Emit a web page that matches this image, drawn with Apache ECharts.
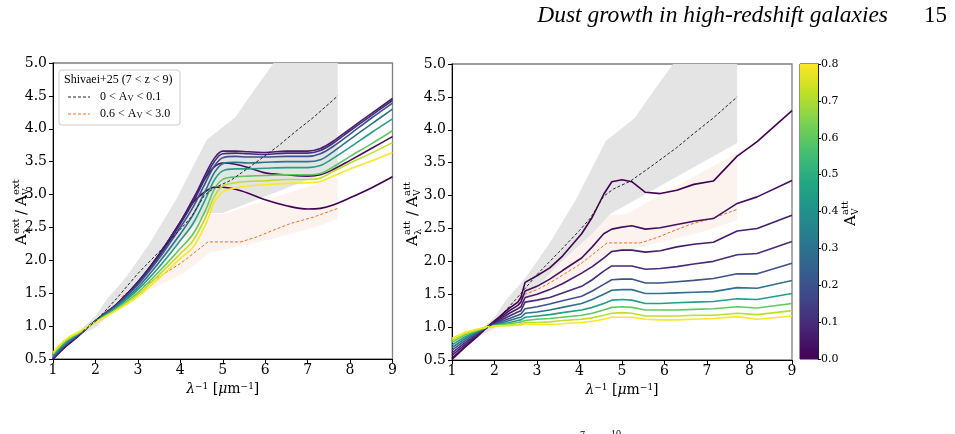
<!DOCTYPE html>
<html><head><meta charset="utf-8">
<script src="https://cdn.jsdelivr.net/npm/echarts@6/dist/echarts.min.js"></script>
<style>html,body{margin:0;padding:0;background:#fff}#c{width:955px;height:434px}</style>
</head><body><div id="c"></div><script>
// ---------------- data ----------------
const avValues = [0.0, 0.03, 0.06, 0.1, 0.2, 0.3, 0.45, 0.6, 0.72, 0.8];

// left panel: extinction curves (smooth)
const extX = [1,1.3,1.6,1.85,2.2,2.5,3,3.5,4,4.3,4.6,4.8,5.0,5.3,5.6,6.0,6.5,7.0,7.3,7.6,8.0,8.5,9];
const ext0 = [0.50,0.69,0.85,1.00,1.18,1.33,1.67,2.09,2.58,2.88,3.05,3.11,3.11,3.08,3.02,2.92,2.83,2.78,2.79,2.84,2.95,3.10,3.27];
const ext1 = [0.50,0.69,0.85,1.00,1.18,1.33,1.67,2.09,2.58,2.93,3.26,3.42,3.48,3.46,3.41,3.33,3.30,3.28,3.30,3.38,3.52,3.70,3.88];
const ext2 = [0.51,0.70,0.86,1.00,1.18,1.33,1.66,2.08,2.58,2.92,3.32,3.55,3.66,3.66,3.65,3.64,3.66,3.66,3.70,3.81,4.00,4.23,4.46];
const ext3 = [0.52,0.71,0.86,1.00,1.18,1.32,1.65,2.06,2.55,2.88,3.27,3.50,3.62,3.63,3.62,3.61,3.63,3.63,3.67,3.78,3.97,4.20,4.43];
const ext4 = [0.52,0.72,0.87,1.00,1.17,1.32,1.63,2.03,2.50,2.81,3.19,3.43,3.56,3.58,3.57,3.57,3.58,3.58,3.62,3.73,3.92,4.16,4.39];
const ext5 = [0.54,0.73,0.88,1.00,1.16,1.30,1.59,1.97,2.40,2.69,3.07,3.33,3.47,3.49,3.48,3.49,3.50,3.50,3.53,3.65,3.84,4.07,4.30];
const ext6 = [0.555,0.75,0.885,1.00,1.155,1.285,1.555,1.90,2.30,2.56,2.94,3.22,3.36,3.39,3.39,3.40,3.41,3.41,3.44,3.55,3.72,3.94,4.15];
const ext7 = [0.575,0.77,0.895,1.00,1.145,1.265,1.51,1.83,2.18,2.40,2.77,3.08,3.23,3.27,3.28,3.29,3.30,3.30,3.32,3.42,3.58,3.77,3.97];
const ext8 = [0.585,0.79,0.90,1.00,1.135,1.25,1.48,1.78,2.10,2.30,2.66,2.97,3.13,3.18,3.20,3.21,3.23,3.23,3.25,3.35,3.48,3.63,3.79];
const ext9 = [0.60,0.80,0.91,1.00,1.13,1.24,1.45,1.73,2.03,2.20,2.55,2.88,3.04,3.10,3.13,3.15,3.17,3.18,3.20,3.28,3.39,3.51,3.64];
const extCurves = [ext0, ext1, ext2, ext3, ext4, ext5, ext6, ext7, ext8, ext9];

// right panel: attenuation curves (piecewise)
const attX = [1.0,1.3,1.6,1.82,2.1,2.35,2.55,2.62,2.72,3.0,3.3,3.6,4.05,4.3,4.57,4.76,5.0,5.23,5.55,5.9,6.29,6.69,7.15,7.71,8.18,9.0];
const att0 = [0.51,0.69,0.86,1.00,1.15,1.29,1.38,1.45,1.68,1.78,1.90,2.08,2.42,2.67,3.02,3.21,3.24,3.21,3.05,3.03,3.08,3.17,3.22,3.60,3.82,4.29];
const att1 = [0.53,0.70,0.87,1.00,1.13,1.25,1.33,1.38,1.55,1.62,1.73,1.86,2.05,2.22,2.42,2.49,2.52,2.54,2.49,2.51,2.56,2.61,2.65,2.88,2.98,3.23];
const att2 = [0.57,0.73,0.88,1.00,1.11,1.21,1.28,1.31,1.45,1.50,1.57,1.66,1.82,1.92,2.05,2.15,2.17,2.17,2.14,2.16,2.22,2.26,2.29,2.46,2.50,2.70];
const att3 = [0.61,0.76,0.90,1.00,1.09,1.17,1.23,1.25,1.38,1.41,1.45,1.52,1.62,1.72,1.85,1.93,1.93,1.93,1.88,1.89,1.92,1.96,2.00,2.10,2.12,2.30];
const att4 = [0.65,0.79,0.91,1.00,1.07,1.13,1.18,1.20,1.28,1.31,1.35,1.40,1.47,1.55,1.65,1.72,1.73,1.73,1.67,1.67,1.69,1.71,1.74,1.81,1.81,1.97];
const att5 = [0.69,0.82,0.93,1.00,1.05,1.10,1.14,1.15,1.21,1.23,1.26,1.30,1.36,1.42,1.50,1.56,1.57,1.57,1.51,1.51,1.52,1.53,1.54,1.60,1.59,1.71];
const att6 = [0.73,0.85,0.94,1.00,1.04,1.07,1.10,1.11,1.15,1.17,1.19,1.22,1.26,1.30,1.36,1.41,1.42,1.41,1.36,1.36,1.37,1.38,1.39,1.43,1.42,1.51];
const att7 = [0.77,0.88,0.95,1.00,1.03,1.05,1.07,1.08,1.10,1.12,1.13,1.15,1.18,1.21,1.26,1.30,1.31,1.30,1.26,1.26,1.26,1.27,1.28,1.31,1.29,1.36];
const att8 = [0.80,0.90,0.96,1.00,1.02,1.03,1.04,1.05,1.07,1.07,1.08,1.10,1.12,1.14,1.18,1.21,1.22,1.21,1.17,1.17,1.17,1.18,1.18,1.21,1.19,1.25];
const att9 = [0.83,0.92,0.97,1.00,1.02,1.02,1.03,1.03,1.05,1.04,1.04,1.05,1.07,1.09,1.12,1.15,1.15,1.15,1.12,1.11,1.11,1.12,1.13,1.16,1.12,1.17];
const attCurves = [att0, att1, att2, att3, att4, att5, att6, att7, att8, att9];

// Shivaei+25 observational curves
const blackX = [1.7,2.0,2.5,3.0,3.5,4.0,4.26,4.57,4.8,5.2,5.7,6.29,6.7,7.15,7.71];
const blackY = [0.92,1.07,1.42,1.80,2.13,2.47,2.66,2.99,3.10,3.22,3.45,3.73,3.95,4.18,4.50];
const orangeX = [2.62,2.72,3.0,3.24,3.5,3.75,4.02,4.3,4.65,5.0,5.43,5.82,6.2,6.6,7.15,7.71];
const orangeY = [1.44,1.50,1.57,1.65,1.75,1.85,1.96,2.10,2.28,2.28,2.28,2.36,2.46,2.56,2.66,2.79];

const greyUpX = [1.65,2.0,2.26,2.73,3.28,3.9,4.62,5.3,5.7,6.2,7.71];
const greyUpY = [0.95,1.15,1.40,1.75,2.26,2.92,3.83,4.18,4.55,5.0,5.0];
const greyLowLeftX = [1.65,2.0,2.5,3.0,3.5,4.0,4.6,5.0,7.71];
const greyLowLeftY = [0.86,0.98,1.28,1.60,1.95,2.30,2.72,2.72,3.40];
const greyLowRightX = [1.65,2.0,2.5,3.0,3.5,4.0,4.3,4.72,7.71];
const greyLowRightY = [0.86,0.98,1.28,1.60,1.95,2.25,2.42,2.72,3.80];

const pinkUpX = [2.6,3.0,3.5,4.0,4.7,5.1,7.71];
const pinkUpLeftY = [1.55,1.78,2.05,2.35,2.70,2.72,3.27];
const pinkUpRightY = [1.55,1.78,2.05,2.35,2.70,2.72,3.65];
const pinkLowX = [2.6,3.0,3.67,4.07,4.7,5.1,6.0,7.0,7.71];
const pinkLowY = [1.35,1.45,1.68,1.80,2.12,2.17,2.30,2.47,2.63];

const legendTitle = 'Shivaei+25 (7 < z < 9)';
const legendLabels = ['0 < A{s|V} < 0.1', '0.6 < A{s|V} < 3.0'];
const cbarMax = 0.8;

// ---------------- helpers ----------------
const VIRIDIS = ['#440154','#482475','#414487','#355f8d','#2a788e','#21918c','#22a884','#44bf70','#7ad151','#bddf26','#fde725'];
function hex2rgb(h){return [parseInt(h.substr(1,2),16),parseInt(h.substr(3,2),16),parseInt(h.substr(5,2),16)];}
function viridis(t){
  t = Math.max(0, Math.min(1, t));
  const p = t * 10, i = Math.min(9, Math.floor(p)), f = p - i;
  const a = hex2rgb(VIRIDIS[i]), b = hex2rgb(VIRIDIS[i+1]);
  const c = a.map((v,k)=>Math.round(v + (b[k]-v)*f));
  return 'rgb(' + c.join(',') + ')';
}
const zip = (xs, ys) => xs.map((x,i)=>[x, ys[i]]);
const SERIF = '"DejaVu Serif", serif';
const TIMES = '"Liberation Serif", serif';
const BLACK_DASH = '#222', ORANGE = '#f26b1d';

function band(axisIdx, up, low, color, z){
  const pts = up.concat(low.slice().reverse());
  return {
    type: 'custom', xAxisIndex: axisIdx, yAxisIndex: axisIdx, z: z, silent: true, clip: true,
    data: pts,
    renderItem: function(params, api){
      if (params.dataIndex !== 0) return null;
      return { type: 'polygon', shape: { points: pts.map(p => api.coord(p)) }, style: { fill: color } };
    }
  };
}

const series = [];
[0,1].forEach(function(k){
  const pinkUp = zip(pinkUpX, k === 0 ? pinkUpLeftY : pinkUpRightY);
  const pinkLow = zip(pinkLowX, pinkLowY);
  const greyUp = zip(greyUpX, greyUpY);
  const greyLow = k === 0 ? zip(greyLowLeftX, greyLowLeftY) : zip(greyLowRightX, greyLowRightY);
  series.push(band(k, pinkUp, pinkLow, '#fcf3ee', 1));
  series.push(band(k, greyUp, greyLow, '#e4e4e4', 1));
  series.push({
    name: '0.6 < A_V < 3.0', type: 'line', xAxisIndex: k, yAxisIndex: k, z: 2,
    data: zip(orangeX, orangeY), symbol: 'none', showSymbol: false,
    lineStyle: { color: ORANGE, width: 1, type: [3, 2] }
  });
  const curves = k === 0 ? extCurves : attCurves;
  const xs = k === 0 ? extX : attX;
  curves.forEach(function(ys, i){
    series.push({
      type: 'line', xAxisIndex: k, yAxisIndex: k, z: 3 + i * 0.01,
      data: zip(xs, ys), symbol: 'none', showSymbol: false,
      smooth: k === 0 ? 0.35 : false,
      lineStyle: { color: viridis(avValues[i] / cbarMax), width: 1.6 }
    });
  });
  series.push({
    name: '0 < A_V < 0.1', type: 'line', xAxisIndex: k, yAxisIndex: k, z: 5,
    data: zip(blackX, blackY), symbol: 'none', showSymbol: false,
    lineStyle: { color: BLACK_DASH, width: 1, type: [3, 2] }
  });
});

// colorbar
const cbStops = VIRIDIS.map((c, i) => ({ offset: i / 10, color: c }));
series.push({
  type: 'bar', xAxisIndex: 2, yAxisIndex: 2, data: [cbarMax], barWidth: '100%', silent: true,
  itemStyle: { color: new echarts.graphic.LinearGradient(0, 1, 0, 0, cbStops) }
});

function xAxisCfg(grid){
  return {
    gridIndex: grid, type: 'value', min: 1, max: 9, interval: 1,
    axisLine: { show: true, onZero: false, lineStyle: { color: '#000', width: 1 } },
    axisTick: { show: true, inside: false, length: 4, lineStyle: { color: '#000' } },
    axisLabel: { fontFamily: SERIF, fontSize: 14, color: '#000', margin: 4 },
    splitLine: { show: false },
    name: '{it|λ}{sup|−1} [{it|μ}m{sup|−1}]', nameLocation: 'middle', nameGap: 19,
    nameTextStyle: {
      fontFamily: SERIF, fontSize: 14, color: '#000',
      rich: {
        it: { fontFamily: SERIF, fontSize: 14, fontStyle: 'italic', color: '#000' },
        sup: { fontFamily: SERIF, fontSize: 9, verticalAlign: 'top', color: '#000' }
      }
    }
  };
}
function yAxisCfg(grid){
  return {
    gridIndex: grid, type: 'value', min: 0.5, max: 5, interval: 0.5,
    axisLine: { show: true, onZero: false, lineStyle: { color: '#000', width: 1 } },
    axisTick: { show: true, inside: false, length: 4, lineStyle: { color: '#000' } },
    axisLabel: { fontFamily: SERIF, fontSize: 14, color: '#000', margin: 6, formatter: v => v.toFixed(1) },
    splitLine: { show: false }
  };
}

function txt(text, x, y, size, extra, family){
  return Object.assign({
    type: 'text', x: x, y: y,
    style: { text: text, fontFamily: family || SERIF, fontSize: size, fill: '#000', textAlign: 'left', textVerticalAlign: 'middle' }
  }, extra || {});
}
function yTitle(cx, cy, sup){
  return {
    type: 'group', x: cx, y: cy, rotation: Math.PI / 2, z: 10,
    children: [
      txt('A', -34, 0, 15), txt(sup, -23, -6, 10), txt('λ', -23, 5, 10),
      txt('/', -4, 0, 15),
      txt('A', 5, 0, 15), txt(sup, 16, -6, 10), txt('V', 16, 5, 9)
    ]
  };
}
function cbTitle(cx, cy){
  return { type: 'group', x: cx, y: cy, rotation: Math.PI / 2, z: 10,
    children: [ txt('A', -14, 0, 15), txt('att', -3, -6, 10), txt('V', -3, 5, 9) ] };
}
function legendEntry(y, color, label){
  return [
    { type: 'line', z: 12, shape: { x1: 68, y1: y, x2: 90, y2: y },
      style: { stroke: color, lineWidth: 1, lineDash: [3, 2] } },
    { type: 'text', x: 100, y: y, z: 12,
      style: { text: label, fontFamily: TIMES, fontSize: 12, fill: '#000', textVerticalAlign: 'middle',
        rich: { s: { fontFamily: TIMES, fontSize: 8.5, verticalAlign: 'bottom', fill: '#000' } } } }
  ];
}

const option = {
  animation: false,
  backgroundColor: '#fff',
  grid: [
    { left: 53, top: 63, width: 339.5, height: 296, show: true, borderColor: '#7f7f7f', borderWidth: 1.3, backgroundColor: 'transparent' },
    { left: 452, top: 64, width: 340, height: 296, show: true, borderColor: '#7f7f7f', borderWidth: 1.3, backgroundColor: 'transparent' },
    { left: 800, top: 64, width: 18, height: 295, show: true, borderColor: '#222', borderWidth: 1, backgroundColor: 'transparent' }
  ],
  xAxis: [ xAxisCfg(0), xAxisCfg(1),
    { gridIndex: 2, type: 'category', data: ['cb'], show: false, boundaryGap: true } ],
  yAxis: [ yAxisCfg(0), yAxisCfg(1),
    { gridIndex: 2, type: 'value', position: 'right', min: 0, max: cbarMax, interval: 0.1,
      axisLine: { show: true, lineStyle: { color: '#222', width: 1 } }, splitLine: { show: false },
      axisTick: { show: true, inside: false, length: 3, lineStyle: { color: '#000' } },
      axisLabel: { fontFamily: SERIF, fontSize: 11, color: '#000', margin: 3, formatter: v => v.toFixed(1) } } ],
  graphic: [
    { type: 'rect', shape: { x: 59, y: 70, width: 121, height: 55, r: 3 }, z: 11,
      style: { fill: 'rgba(255,255,255,0.85)', stroke: '#cccccc', lineWidth: 1 } },
    txt(legendTitle, 64, 80, 12, { z: 12 }, TIMES),
    ...legendEntry(97, BLACK_DASH, legendLabels[0]),
    ...legendEntry(114, ORANGE, legendLabels[1]),
    yTitle(22, 211, 'ext'),
    yTitle(413, 212, 'att'),
    cbTitle(851, 212),
    { type: 'text', x: 888, y: 16, style: { text: 'Dust growth in high-redshift galaxies', fontFamily: TIMES, fontStyle: 'italic', fontSize: 23.5, fill: '#000', textAlign: 'right', textVerticalAlign: 'middle' } },
    { type: 'text', x: 947, y: 16, style: { text: '15', fontFamily: TIMES, fontSize: 23, fill: '#000', textAlign: 'right', textVerticalAlign: 'middle' } },
    { type: 'text', x: 580, y: 430, style: { text: '7', fontFamily: TIMES, fontSize: 10, fill: '#000', textAlign: 'left', textVerticalAlign: 'top' } },
    { type: 'text', x: 611, y: 429, style: { text: '10', fontFamily: TIMES, fontSize: 10, fill: '#000', textAlign: 'left', textVerticalAlign: 'top' } }
  ],
  series: series
};

const chart = echarts.init(document.getElementById('c'), null, { renderer: 'canvas' });
chart.setOption(option);
</script></body></html>
